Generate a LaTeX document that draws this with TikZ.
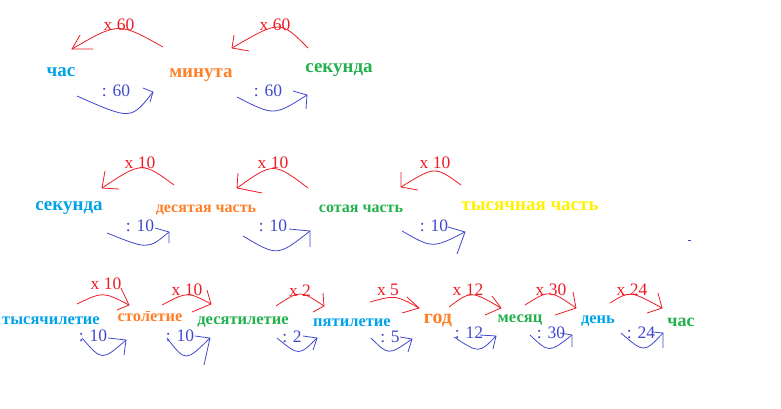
\documentclass[tikz,border=0pt]{standalone}
\usepackage{fontspec}
\setmainfont{Liberation Serif}
\definecolor{pred}{HTML}{ED1C24}
\definecolor{pind}{HTML}{3F48CC}
\definecolor{pturq}{HTML}{00A2E8}
\definecolor{pgreen}{HTML}{22B14C}
\definecolor{porange}{HTML}{FF7F27}
\definecolor{pyellow}{HTML}{FFF200}
\tikzset{
  redln/.style={draw=pred, line width=0.8pt},
  blueln/.style={draw=pind, line width=0.8pt},
  rlab/.style={text=pred, inner sep=0pt, font=\fontsize{17.5}{20}\selectfont},
  blab/.style={text=pind, inner sep=0pt, font=\fontsize{17.5}{20}\selectfont},
  wbig/.style={inner sep=0pt, font=\bfseries\fontsize{19}{22}\selectfont},
  wmid/.style={inner sep=0pt, font=\bfseries\fontsize{16.5}{19}\selectfont},
  wsmall/.style={inner sep=0pt, font=\bfseries\fontsize{16}{18}\selectfont},
  wgod/.style={inner sep=0pt, font=\bfseries\fontsize{20}{22}\selectfont},
  wchas/.style={inner sep=0pt, font=\bfseries\fontsize{18}{20}\selectfont},
}
\newcommand\handarrow[7]{%
  \coordinate (#2s) at (#3);
  \coordinate (#2e) at (#5);
  \coordinate (#2a) at (#6);
  \coordinate (#2b) at (#7);
  \draw[#1] (#2s) .. controls (#4) .. (#2e);
  \draw[#1] (#2a) -- (#2e) -- (#2b);
}
\begin{document}
\begin{tikzpicture}[x=1pt,y=-1pt]
\useasboundingbox (0,0) rectangle (781,408);
% ---------- row 1 ----------
\node[wbig, text=pturq] (chas1) at (61,72) {час};
\node[wbig, text=porange] (min1) at (201,75) {минута};
\node[wbig, text=pgreen] (sek1) at (339,70) {секунда};
\node[rlab] (lr1) at (119,25) {x 60};
\node[rlab] (lr2) at (275,25) {x 60};
\node[blab] (lb1) at (116,91) {: 60};
\node[blab] (lb2) at (268,91) {: 60};
\handarrow{redln}{ra}{163,47}{118.5,22}{72,49}{80,35}{93,49}
\handarrow{redln}{rb}{308,48}{280,20}{232,48}{234,35}{249,51}
\handarrow{blueln}{ba}{77,96}{131,120}{153,92}{143,88}{150,102}
\handarrow{blueln}{bb}{237,97}{274,116}{307,95}{293,91}{306,109}
% ---------- row 2 ----------
\node[wbig, text=pturq] (sek2) at (69,208) {секунда};
\node[wsmall, text=porange] (des2) at (206,210) {десятая часть};
\node[wsmall, text=pgreen] (sot2) at (361,209) {сотая часть};
\node[wbig, text=pyellow] (tys2) at (530,206) {тысячная часть};
\node[rlab] (lr3) at (140,163) {x 10};
\node[rlab] (lr4) at (273,163) {x 10};
\node[rlab] (lr5) at (435,163) {x 10};
\node[blab] (lb3) at (140,226) {: 10};
\node[blab] (lb4) at (273,226) {: 10};
\node[blab] (lb5) at (434,226) {: 10};
\handarrow{redln}{rc}{174,185}{142,161.5}{102,188}{105,171}{119,189}
\handarrow{redln}{rd}{308,188}{273.5,162}{237,188}{238,173}{262,193}
\handarrow{redln}{re}{461,185}{435,166}{401,187}{401,172}{418,190}
\handarrow{blueln}{bc}{107,233}{148,249.5}{169,232}{155,228}{169,243}
\handarrow{blueln}{bd}{243,236}{277.5,256.5}{310,231}{289,229}{310,247}
\handarrow{blueln}{be}{402,231}{432.5,248.5}{465,232}{448,227}{457,254}
\coordinate (dotA) at (688,240);
\coordinate (dotB) at (691,240);
\draw[blueln] (dotA) -- (dotB);
% ---------- row 3 ----------
\node[wmid, text=pturq] (w1) at (51,321) {тысячилетие};
\node[wmid, text=porange] (w2) at (150,318) {столетие};
\node[wmid, text=pgreen] (w3) at (243,322) {десятилетие};
\node[wmid, text=pturq] (w4) at (352,323) {пятилетие};
\node[wgod, text=porange] (w5) at (438,321) {год};
\node[wmid, text=pgreen] (w6) at (520,320) {месяц};
\node[wmid, text=pturq] (w7) at (598,321) {день};
\node[wchas, text=pgreen] (w8) at (681,322) {час};
\coordinate (mkA) at (146,311);
\coordinate (mkB) at (150,311);
\draw[draw=porange, line width=0.6pt] (mkA) -- (mkB);
\node[rlab] (lr6) at (106,284) {x 10};
\node[rlab] (lr7) at (187,290) {x 10};
\node[rlab] (lr8) at (300,291) {x 2};
\node[rlab] (lr9) at (388,290) {x 5};
\node[rlab] (lr10) at (468,290) {x 12};
\node[rlab] (lr11) at (551,290) {x 30};
\node[rlab] (lr12) at (632,290) {x 24};
\node[blab] (lb6) at (93,336) {: 10};
\node[blab] (lb7) at (180,336) {: 10};
\node[blab] (lb8) at (292,337) {: 2};
\node[blab] (lb9) at (390,337) {: 5};
\node[blab] (lb10) at (469,333) {: 12};
\node[blab] (lb11) at (551,333) {: 30};
\node[blab] (lb12) at (641,333) {: 24};
\handarrow{redln}{rf}{77,304}{103,291.5}{129,305}{121,288}{117,310}
\handarrow{redln}{rg}{162,305}{187.5,291.5}{211,304}{207,290}{192,312}
\handarrow{redln}{rh}{276,306}{300,290}{324,306}{323,293}{313,312}
\handarrow{redln}{ri}{370,302}{395.5,295}{419,308}{407,297}{402,313}
\handarrow{redln}{rj}{449,307}{471,290.5}{501,308}{492,296}{485,315}
\handarrow{redln}{rk}{525,305}{549.5,289.5}{576,308}{573,292}{555,315}
\handarrow{redln}{rl}{610,303}{630,290.5}{662,308}{658,293}{647,313}
\handarrow{blueln}{bf}{82,338}{102,361}{126,340}{108,338}{124,355}
\handarrow{blueln}{bg}{167,338}{185.5,362}{210,338}{195,336}{204,365}
\handarrow{blueln}{bh}{277,338}{299,356}{317,338}{303,336}{313,350}
\handarrow{blueln}{bi}{371,338}{388.5,355.5}{412,339}{400,337}{408,352}
\handarrow{blueln}{bj}{454,337}{479,353.5}{496,336}{480,335}{493,349}
\handarrow{blueln}{bk}{530,335}{549,353}{572,335}{560,333}{572,347}
\handarrow{blueln}{bl}{621,333}{644,353}{663,333}{653,332}{663,348}
\end{tikzpicture}
\end{document}
